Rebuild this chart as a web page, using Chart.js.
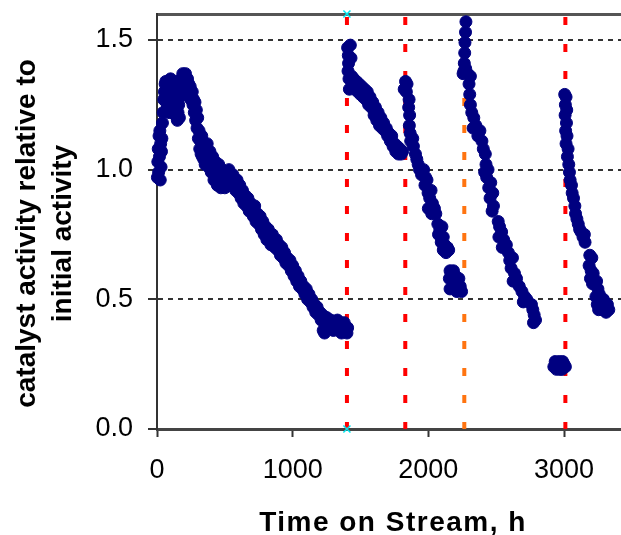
<!DOCTYPE html>
<html><head><meta charset="utf-8">
<script src="https://cdn.jsdelivr.net/npm/chart.js@4/dist/chart.umd.min.js"></script>
<style>html,body{margin:0;padding:0;background:#fff;overflow:hidden}#wrap{width:621px;height:535px}</style>
</head><body><div id="wrap"><canvas id="c" width="621" height="535"></canvas></div>
<script>
// Time on stream (h) and relative catalyst activity, one array per run
const run1 = [
[3,0.97],[6,1.03],[9,1.08],[12,0.99],[15,1.13],[18,1.05],[21,1.15],[24,0.96],[27,1.10],[30,1.01],[33,1.07],
[36,1.12],[40,1.18],[45,1.22],[50,1.27],[55,1.30],[60,1.33],
[65,1.34],[70,1.30],[75,1.25],[80,1.34],[85,1.28],[90,1.22],[95,1.33],[100,1.35],[105,1.27],[110,1.31],[115,1.22],[120,1.34],[125,1.25],[130,1.30],[135,1.21],[140,1.24],[145,1.28],
[150,1.19],[155,1.22],[160,1.25],[165,1.20],[170,1.28],
[175,1.32],[180,1.35],[185,1.29],[190,1.37],[195,1.33],[200,1.36],[205,1.30],[210,1.37],[215,1.34],[220,1.31],[225,1.35],[230,1.30],[235,1.33],[240,1.28],[245,1.32],[250,1.27],
[260,1.30],[265,1.25],[270,1.27],[275,1.22],[280,1.26],[285,1.19],[290,1.23],[295,1.16],[300,1.20],[305,1.12],[310,1.15],[315,1.08],[320,1.11],[325,1.06],[330,1.13],[335,1.05],[340,1.09],[345,1.04],[350,1.07],[355,1.02],
[360,1.08],[365,1.03],[370,1.10],[375,1.05],[380,1.01],[390,1.07],[395,1.03],[400,0.99],[410,1.05],[415,1.01],[420,0.96],[430,1.03],[440,0.98],[445,0.94],[455,1.02],[460,0.97],[470,0.93],[480,1.00],[490,0.96],[500,0.93],[510,0.99],[520,0.95],[530,1.00],[540,0.96],[550,0.94],[560,0.98],[570,0.95],[580,0.92],[590,0.96],[600,0.91],
[610,0.94],[620,0.89],[630,0.92],[640,0.87],[650,0.90],[660,0.86],[670,0.89],[680,0.84],[690,0.87],[700,0.85],[710,0.82],[720,0.86],[730,0.80],[740,0.83],[750,0.79],[760,0.82],[770,0.77],[780,0.80],[790,0.75],[800,0.78],
[810,0.73],[820,0.77],[830,0.74],[840,0.71],[850,0.75],[860,0.72],[870,0.70],[880,0.73],[890,0.69],[900,0.71],[910,0.67],[920,0.70],[930,0.66],[940,0.68],[950,0.64],[960,0.66],[970,0.63],[980,0.65],[990,0.61],[1000,0.63],
[1010,0.59],[1020,0.61],[1030,0.57],[1040,0.59],[1050,0.55],[1060,0.57],[1070,0.54],[1080,0.55],[1090,0.52],[1100,0.54],[1110,0.50],[1120,0.52],[1130,0.49],[1140,0.50],[1150,0.47],[1160,0.48],[1170,0.45],[1180,0.47],[1190,0.44],[1200,0.45],
[1210,0.42],[1220,0.44],[1225,0.38],[1235,0.37],[1245,0.40],[1250,0.43],[1260,0.41],[1270,0.39],[1280,0.42],[1290,0.40],[1300,0.38],[1310,0.41],[1320,0.39],[1330,0.42],[1340,0.38],[1350,0.40],[1360,0.37],[1370,0.39],[1380,0.41],[1390,0.38],[1400,0.37],[1405,0.39]
];
const run2 = [
[1405,1.47],[1410,1.44],[1412,1.41],[1408,1.38],[1415,1.35],[1418,1.31],[1425,1.48],[1430,1.43],[1435,1.36],[1440,1.33],[1450,1.35],[1460,1.31],[1470,1.34],[1480,1.30],[1490,1.33],[1500,1.29],[1510,1.32],[1520,1.28],[1530,1.31],[1540,1.27],
[1550,1.30],[1560,1.25],[1570,1.28],[1580,1.24],[1590,1.26],[1600,1.21],[1610,1.24],[1620,1.19],[1630,1.22],[1640,1.17],[1650,1.20],[1660,1.16],[1670,1.18],[1680,1.15],[1690,1.16],[1700,1.13],[1710,1.14],[1720,1.11],[1730,1.13],[1740,1.09],
[1750,1.10],[1760,1.07],[1770,1.09],[1780,1.06],[1790,1.08],[1800,1.06],[1810,1.07]
];
const run3 = [
[1822,1.31],[1832,1.34],[1843,1.33],[1838,1.30],[1858,1.27],[1855,1.24],[1862,1.21],[1860,1.17],[1866,1.14],[1870,1.11],[1885,1.12],[1890,1.09],[1905,1.06],[1915,1.04],[1925,1.02],[1935,1.00],[1950,0.98],[1965,1.00],[1980,0.97],[1975,0.94],
[1990,0.96],[1998,0.91],[2010,0.89],[2020,0.92],[2030,0.87],[2000,0.85],[2045,0.85],[2055,0.83],[2025,0.83],[2070,0.79],[2085,0.77],[2100,0.78],[2075,0.75],[2110,0.74],[2095,0.72],[2120,0.71],[2140,0.70],[2110,0.69],[2130,0.68],[2150,0.69],
[2160,0.61],[2185,0.61],[2155,0.58],[2175,0.58],[2200,0.59],[2215,0.56],[2160,0.54],[2190,0.54],[2210,0.53],[2235,0.55],[2245,0.53],[2225,0.58]
];
const run4 = [
[2277,1.57],[2274,1.53],[2270,1.49],[2268,1.45],[2265,1.41],[2262,1.38],[2256,1.37],[2275,1.39],[2290,1.37],[2310,1.36],[2300,1.33],[2305,1.29],[2310,1.25],[2320,1.22],[2335,1.20],[2330,1.16],[2350,1.17],[2365,1.13],[2380,1.15],[2395,1.11],
[2405,1.08],[2420,1.06],[2425,1.02],[2415,0.99],[2430,0.97],[2440,1.00],[2445,0.93],[2460,0.95],[2455,0.89],[2475,0.91],[2480,0.86],[2470,0.84],[2515,0.80],[2525,0.78],[2540,0.76],[2520,0.74],[2555,0.73],[2575,0.71],[2545,0.70],[2590,0.68],
[2600,0.65],[2620,0.66],[2610,0.62],[2635,0.60],[2650,0.58],[2625,0.57],[2670,0.55],[2690,0.53],[2710,0.51],[2725,0.50],[2700,0.49],[2760,0.48],[2770,0.46],[2780,0.44],[2790,0.42],[2775,0.41]
];
const run5 = [
[2925,0.24],[2935,0.26],[2945,0.23],[2955,0.25],[2965,0.26],[2975,0.24],[2985,0.23],[2990,0.26],[3000,0.25],[3010,0.24],[2940,0.245],[2970,0.23]
];
const run6 = [
[3005,1.29],[3015,1.28],[3010,1.25],[3020,1.23],[3008,1.21],[3018,1.18],[3012,1.15],[3022,1.13],[3015,1.10],[3030,1.08],[3025,1.05],[3035,1.02],[3040,0.99],[3045,0.96],[3055,0.94],[3060,0.91],[3070,0.89],[3080,0.86],[3085,0.83],[3095,0.81],
[3105,0.79],[3115,0.77],[3125,0.76],[3140,0.74],[3155,0.72],[3150,0.75],
[3190,0.67],[3205,0.66],[3185,0.63],[3200,0.61],[3215,0.60],[3195,0.58],[3210,0.56],
[3240,0.57],[3250,0.54],[3235,0.51],[3260,0.52],[3245,0.48],[3270,0.49],[3290,0.50],[3300,0.47],[3320,0.48],[3330,0.46],[3255,0.46],[3280,0.46],[3310,0.45]
];
// regeneration markers (h)
const redLineHours = [1400, 1830, 3010];
const orangeLineHours = [2265];
const markedLineHour = 1400;
// axes
const xTickValues = [0, 1000, 2000, 3000];
const yTickValues = [0, 0.5, 1.0, 1.5];
const xMin = 0, xMax = 3420, yMin = 0, yMax = 1.6;
const xTitle = 'Time on Stream, h';
const yTitle = ['catalyst activity relative to', 'initial activity'];

const FONT = "'Liberation Sans', Arial, Helvetica, sans-serif";
const toPts = a => a.map(p => ({x: p[0], y: p[1]}));
const allRuns = [].concat(run1, run2, run3, run4, run5, run6);

function vLine(h, color, marked) {
  return {
    label: 'regeneration ' + h,
    data: [{x: h, y: yMax}, {x: h, y: yMin}],
    showLine: true, fill: false,
    borderColor: color, borderWidth: 4, borderDash: [8, 19], borderDashOffset: 24,
    pointRadius: marked ? 5 : 0, pointStyle: 'crossRot',
    pointBorderColor: '#00e5ee', pointBackgroundColor: '#00e5ee', pointBorderWidth: 1.5,
    clip: false
  };
}

const datasets = [
  {label: 'activity', data: toPts(allRuns), showLine: false,
   pointRadius: 6, pointBorderWidth: 1, backgroundColor: '#000080', borderColor: '#000080', clip: false},
  ...redLineHours.map(h => vLine(h, '#ff0000', h === markedLineHour)),
  ...orangeLineHours.map(h => vLine(h, '#ff7410', false))
];

const titlePatch = {
  id: 'titlePatch',
  beforeDraw(chart) {
    const xs = chart.scales.x, ys = chart.scales.y;
    if (!xs._patched) {
      const orig = xs.drawTitle;
      xs.drawTitle = function () { const c = this.ctx; c.save(); c.letterSpacing = '1.5px'; c.translate(4, 2); orig.call(this); c.restore(); };
      xs._patched = true;
    }
    if (!ys._patched) {
      const orig = ys.drawTitle;
      ys.drawTitle = function () { const c = this.ctx; c.save(); c.translate(0, 12); orig.call(this); c.restore(); };
      ys._patched = true;
    }
  }
};

new Chart(document.getElementById('c'), {
  type: 'scatter',
  data: {datasets},
  plugins: [titlePatch],
  options: {
    responsive: false, animation: false, devicePixelRatio: 1,
    layout: {padding: 0, autoPadding: false},
    plugins: {legend: {display: false}, tooltip: {enabled: false}},
    scales: {
      x: {
        type: 'linear', position: 'bottom', min: xMin, max: xMax,
        afterFit: s => { s.height = 106; s.paddingLeft = 0; s.paddingRight = 0; },
        afterBuildTicks: s => { s.ticks = xTickValues.map(v => ({value: v})); },
        ticks: {color: '#000', padding: 17, maxRotation: 0, font: {family: FONT, size: 27}, callback: v => String(v)},
        grid: {drawOnChartArea: false, drawTicks: true, tickLength: 8, tickColor: '#333', tickWidth: 2},
        border: {display: true, color: '#444', width: 3},
        title: {display: true, text: xTitle, color: '#000', padding: {top: 0, bottom: 0},
                font: {family: FONT, size: 28, weight: 'bold', lineHeight: 1}}
      },
      xTop: {
        type: 'linear', position: 'top', min: xMin, max: xMax,
        afterFit: s => { s.height = 14; s.paddingLeft = 0; s.paddingRight = 0; },
        ticks: {display: false},
        grid: {display: false, drawTicks: false},
        border: {display: true, color: '#555', width: 3}
      },
      y: {
        type: 'linear', position: 'left', min: yMin, max: yMax,
        afterFit: s => { s.width = 157; s.paddingTop = 0; s.paddingBottom = 0; },
        afterBuildTicks: s => { s.ticks = yTickValues.map(v => ({value: v})); },
        ticks: {color: '#000', padding: 15, font: {family: FONT, size: 27}, callback: v => Number(v).toFixed(1)},
        grid: {drawOnChartArea: true, color: c => (c.tick && c.tick.value === 0) ? 'rgba(0,0,0,0)' : '#333',
               lineWidth: 2, tickLength: 9, tickColor: '#333', tickWidth: 2},
        border: {display: true, color: '#333', width: 2, dash: [5, 5]},
        title: {display: true, text: yTitle, color: '#000', padding: {top: 9, bottom: 0},
                font: {family: FONT, size: 28, weight: 'bold', lineHeight: 1.29}}
      }
    }
  }
});
</script>
</body></html>
